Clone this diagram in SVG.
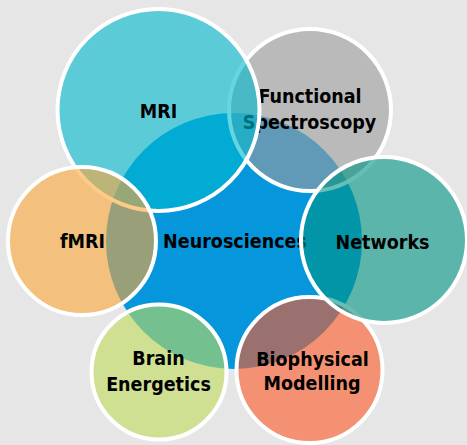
<svg xmlns="http://www.w3.org/2000/svg" width="467" height="445" viewBox="0 0 467 445">
<style>
.sat{stroke:#ffffff;stroke-width:4;fill-opacity:0.6}
text{font-family:"DejaVu Sans Condensed","DejaVu Sans","Liberation Sans",sans-serif;font-weight:bold;font-size:19.5px;fill:#000000;text-anchor:middle}
</style>
<rect x="0" y="0" width="467" height="445" fill="#e6e6e6"/>
<g id="neurosciences">
<circle cx="234" cy="241" r="128" fill="#0596dc"/>
<text x="235" y="248">Neurosciences</text>
</g>
<g id="functional-spectroscopy">
<circle class="sat" cx="310" cy="110" r="81" fill="#9d9d9d"/>
<text x="310" y="103">Functional</text>
<text x="309.5" y="129">Spectroscopy</text>
</g>
<g id="biophysical-modelling">
<circle class="sat" cx="309.5" cy="370" r="73" fill="#fe5925"/>
<text x="312.5" y="366">Biophysical</text>
<text x="312" y="390">Modelling</text>
</g>
<g id="mri">
<circle class="sat" cx="158.5" cy="110" r="101" fill="#00b9cf"/>
<text x="158.5" y="118">MRI</text>
</g>
<g id="fmri">
<circle class="sat" cx="82" cy="241" r="74" fill="#fba637"/>
<text x="82.5" y="248">fMRI</text>
</g>
<g id="brain-energetics">
<circle class="sat" cx="159" cy="372" r="67.5" fill="#c0dc5c"/>
<text x="158.5" y="365">Brain</text>
<text x="158.5" y="391">Energetics</text>
</g>
<g id="networks">
<circle class="sat" cx="384" cy="240" r="83" fill="#009584"/>
<text x="382.5" y="249">Networks</text>
</g>
<g id="connectors"></g>
</svg>
